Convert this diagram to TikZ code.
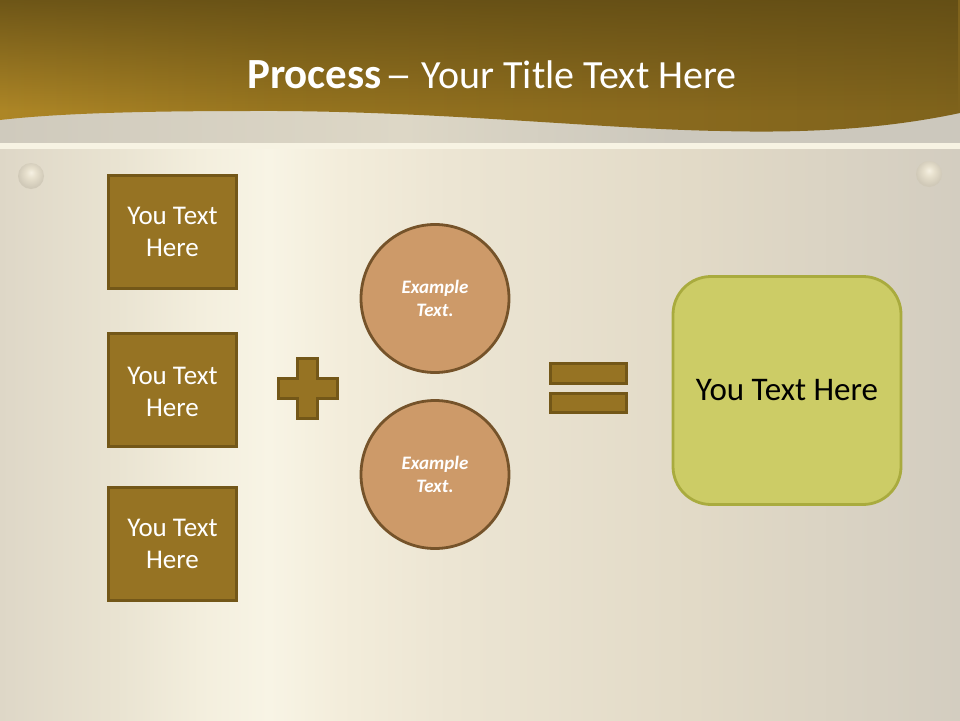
\documentclass[tikz,border=0pt]{standalone}
\usepackage{fontspec}
\setmainfont{Carlito}
\usetikzlibrary{shadings,fadings}
\definecolor{boxfill}{HTML}{967323}
\definecolor{boxline}{HTML}{735718}
\definecolor{circfill}{HTML}{CD9A69}
\definecolor{circline}{HTML}{75532A}
\definecolor{greenfill}{HTML}{CCCC66}
\definecolor{greenline}{HTML}{A9AB3E}
\definecolor{bgA}{HTML}{DED7C7}
\definecolor{bgB}{HTML}{E9E3D1}
\definecolor{bgG}{HTML}{F3EEDD}
\definecolor{bgC}{HTML}{F8F4E5}
\definecolor{bgH}{HTML}{F3EDDB}
\definecolor{bgD}{HTML}{ECE5D3}
\definecolor{bgE}{HTML}{E2DAC7}
\definecolor{bgF}{HTML}{D3CDC0}
\definecolor{rivA}{HTML}{F6F1E3}
\definecolor{rivB}{HTML}{E7E0CD}
\definecolor{rivC}{HTML}{D0C9B8}
\definecolor{banA}{HTML}{AD8626}
\definecolor{banB}{HTML}{96741F}
\definecolor{banC}{HTML}{8A6A1E}
\definecolor{banD}{HTML}{7F631C}
\definecolor{banTop}{HTML}{5E4A14}
\definecolor{bandA}{HTML}{CFCABD}
\definecolor{bandB}{HTML}{DDD7C6}
\definecolor{bandC}{HTML}{CCC8BD}
\pgfdeclarehorizontalshading{plate}{100bp}{
 color(0bp)=(bgA); color(25bp)=(bgA); color(31bp)=(bgB); color(35.4bp)=(bgG); color(39bp)=(bgC); color(42.7bp)=(bgH); color(48.4bp)=(bgD);
 color(61bp)=(bgE); color(75bp)=(bgF); color(100bp)=(bgF)}
\pgfdeclarehorizontalshading{bandshade}{100bp}{
 color(0bp)=(bandA); color(25bp)=(bandA); color(46bp)=(bandB); color(60bp)=(bandC); color(100bp)=(bandC)}
\pgfdeclarehorizontalshading{bannerH}{100bp}{
 color(0bp)=(banA); color(25bp)=(banA); color(40bp)=(banB); color(58bp)=(banC); color(75bp)=(banD); color(100bp)=(banD)}
\pgfdeclareradialshading{rivetshade}{\pgfpoint{0bp}{7bp}}{
 color(0bp)=(rivA); color(10bp)=(rivB); color(25bp)=(rivC); color(50bp)=(rivC)}
\tikzset{
 x=1pt,y=-1pt,
 textbox/.style={draw=boxline,fill=boxfill,line width=2.6pt,minimum width=127.5pt,minimum height=112.5pt,inner sep=0pt,
   text=white,align=center,font=\fontsize{27}{32}\selectfont},
 boxlabel/.style={text=white,align=center,font=\fontsize{27}{32}\selectfont,inner sep=0pt},
 example/.style={circle,draw=circline,fill=circfill,line width=2.8pt,minimum size=148pt,inner sep=0pt,
   text=white,align=center,font=\fontsize{19}{23}\selectfont\bfseries\itshape},
 result/.style={draw=greenline,fill=greenfill,line width=2.8pt,rounded corners=38pt,minimum width=228pt,minimum height=228pt,inner sep=0pt,
   text=black,align=center,font=\fontsize{33}{36}\selectfont},
 symbol/.style={draw=boxline,fill=boxfill,line width=3pt},
 rivet/.style={circle,minimum size=26pt,inner sep=0pt,shading=rivetshade}
}
\begin{document}
\begin{tikzpicture}
\useasboundingbox (0,0) rectangle (960,720);
% metal plate
\shade[shading=plate] (0,0) rectangle (960,720);
% grey band and stripe
\shade[shading=bandshade] (0,100) rectangle (960,143);
\fill[bgC!90!bgD] (0,143) rectangle (960,149);
% banner
\begin{scope}
\clip (0,0) -- (960,0) -- (960,113)
  .. controls (880,130) and (800,133) .. (720,131)
  .. controls (600,129) and (430,110) .. (250,111)
  .. controls (150,111) and (60,113) .. (0,120) -- cycle;
\shade[shading=bannerH] (0,0) rectangle (960,140);
\fill[banTop,path fading=south,fill opacity=.8] (0,0) rectangle (960,110);
\end{scope}
% rivets
\node[rivet] (rivetL) at (31,176) {};
\node[rivet] (rivetR) at (929,174) {};
% title
\node[text=white,anchor=base,font=\fontsize{40}{44}\selectfont,inner sep=0pt] (title) at (492,88.5) {{\fontsize{43}{44}\selectfont\textbf{Process}} \kern-5pt\scalebox{1.35}[1]{--}\kern0pt{} Your Title Text Here};
% boxes
\node[textbox] (box1) at (172.5,232) {You Text\\Here};
\node[textbox] (box2) at (172.5,390) {};
\node[boxlabel] (box2text) at (172.5,392) {You Text\\Here};
\node[textbox] (box3) at (172.5,544) {You Text\\Here};
% plus
\draw[symbol] (297.5,358.5) -- (317.5,358.5) -- (317.5,378.5) -- (337.5,378.5) -- (337.5,398.5) -- (317.5,398.5) -- (317.5,418.5) -- (297.5,418.5) -- (297.5,398.5) -- (278.5,398.5) -- (278.5,378.5) -- (297.5,378.5) -- cycle;
% circles
\node[example] (circ1) at (435,298.5) {Example\\Text.};
\node[example] (circ2) at (435,474.5) {Example\\Text.};
% equals
\draw[symbol] (550.5,363.5) rectangle (626.5,383);
\draw[symbol] (550.5,393) rectangle (626.5,412.5);
% result
\node[result] (res) at (787,390.5) {You Text Here};
\end{tikzpicture}
\end{document}
